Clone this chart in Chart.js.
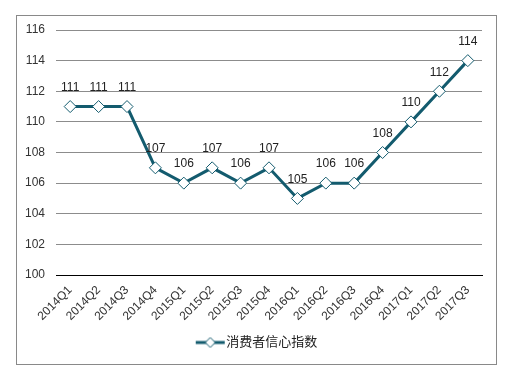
<!DOCTYPE html>
<html>
<head>
<meta charset="utf-8">
<script src="https://cdn.jsdelivr.net/npm/chart.js@4"></script>
<style>
  body { margin: 0; background: #fff; }
  #box { position: absolute; left: 16px; top: 15px; width: 481px; height: 350px; box-sizing: border-box; border: 1px solid #898989; }
  #chart { display: block; }
</style>
</head>
<body>
<div id="box"><canvas id="chart" width="479" height="348"></canvas></div>
<script>
var quarters = ['2014Q1', '2014Q2', '2014Q3', '2014Q4', '2015Q1', '2015Q2', '2015Q3', '2015Q4',
                '2016Q1', '2016Q2', '2016Q3', '2016Q4', '2017Q1', '2017Q2', '2017Q3'];
var confidence = [111, 111, 111, 107, 106, 107, 106, 107, 105, 106, 106, 108, 110, 112, 114];
var seriesName = '消费者信心指数';

var lineColor = '#135b6e';
var font = "'Liberation Sans', 'Noto Sans CJK SC', Arial, sans-serif";

// legend icon: short line with a diamond; the canvas is wider than the legend box
// so the icon sits a bit right and close to the text
function legendIcon() {
    var c = document.createElement('canvas');
    c.width = 62; c.height = 12;
    var g = c.getContext('2d');
    g.strokeStyle = lineColor;
    g.lineWidth = 3;
    g.beginPath(); g.moveTo(26, 6); g.lineTo(55, 6); g.stroke();
    g.fillStyle = '#fff';
    g.lineWidth = 1;
    g.beginPath();
    g.moveTo(40.5, 1); g.lineTo(45.5, 6); g.lineTo(40.5, 11); g.lineTo(35.5, 6); g.closePath();
    g.fill(); g.stroke();
    return c;
}

var valueLabels = {
    id: 'valueLabels',
    afterDatasetsDraw(chart) {
        var ctx = chart.ctx;
        var meta = chart.getDatasetMeta(0);
        ctx.save();
        ctx.font = '12px ' + font;
        ctx.fillStyle = '#222';
        ctx.textAlign = 'center';
        ctx.textBaseline = 'middle';
        meta.data.forEach(function (pt, i) {
            ctx.fillText(confidence[i], pt.x, pt.y - 19);
        });
        ctx.restore();
    }
};

new Chart(document.getElementById('chart'), {
    type: 'line',
    data: {
        labels: quarters,
        datasets: [{
            label: seriesName,
            data: confidence,
            borderColor: lineColor,
            borderWidth: 3,
            pointStyle: 'rectRot',
            pointRadius: 6,
            pointBorderWidth: 1,
            pointBackgroundColor: '#fff',
            pointBorderColor: lineColor,
            tension: 0
        }]
    },
    options: {
        responsive: false,
        animation: false,
        layout: { padding: { left: 0, right: 14, top: 14, bottom: 5 } },
        plugins: {
            tooltip: { enabled: false },
            legend: {
                position: 'bottom',
                labels: {
                    usePointStyle: true,
                    pointStyleWidth: 38,
                    generateLabels: function (chart) {
                        return [{ text: seriesName, pointStyle: legendIcon(), fontColor: '#222', lineWidth: 0, datasetIndex: 0 }];
                    },
                    font: { size: 13, family: font },
                    color: '#222',
                    padding: 10
                }
            }
        },
        scales: {
            x: {
                offset: true,
                grid: { display: false, drawTicks: false },
                border: { display: true, color: '#000' },
                ticks: { minRotation: 45, maxRotation: 45, padding: 8, color: '#333', font: { size: 12, family: font } },
                afterFit: function (s) { s.height = 51; s.paddingLeft = 0; s.paddingRight = 0; }
            },
            y: {
                min: 100,
                max: 116,
                ticks: { stepSize: 2, padding: 11, color: '#333', font: { size: 12, family: font } },
                grid: {
                    drawTicks: false,
                    color: function (c) { return c.tick && c.tick.value === 100 ? '#000' : '#8c8c8c'; }
                },
                border: { display: false },
                afterFit: function (s) { s.width = 39; s.paddingTop = 0; s.paddingBottom = 0; }
            }
        }
    },
    plugins: [valueLabels]
});
</script>
</body>
</html>
